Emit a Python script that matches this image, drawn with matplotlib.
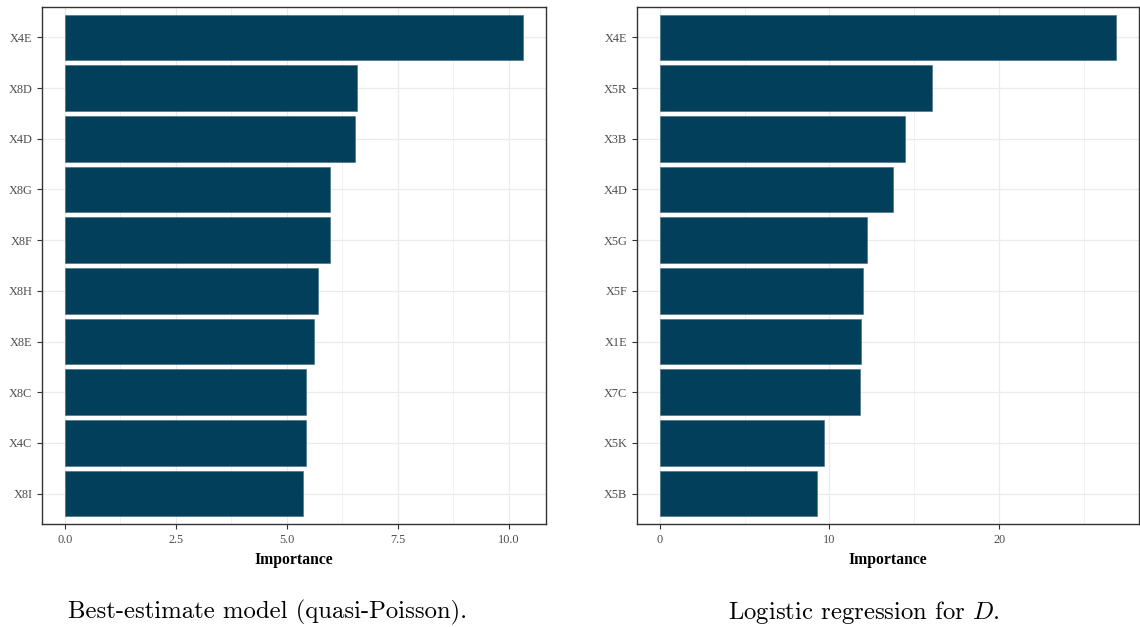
import numpy as np
import matplotlib
matplotlib.use('Agg')
import matplotlib.pyplot as plt
from matplotlib.ticker import MultipleLocator

plt.rcParams['mathtext.fontset'] = 'cm'

# variable importance, best-estimate (quasi-Poisson) model
qp_vars = ['X4E', 'X8D', 'X4D', 'X8G', 'X8F', 'X8H', 'X8E', 'X8C', 'X4C', 'X8I']
qp_imp = [10.32, 6.57, 6.53, 5.96, 5.96, 5.69, 5.60, 5.42, 5.42, 5.37]

# variable importance, logistic regression for D
lr_vars = ['X4E', 'X5R', 'X3B', 'X4D', 'X5G', 'X5F', 'X1E', 'X7C', 'X5K', 'X5B']
lr_imp = [26.9, 16.06, 14.47, 13.76, 12.24, 12.0, 11.88, 11.82, 9.7, 9.24]

bar_color = '#023F5B'
grid_color = '#EBEBEB'
tick_color = '#4D4D4D'


def importance_panel(ax, names, values, major, minor):
    n = len(names)
    ypos = np.arange(n)[::-1] + 1
    ax.set_axisbelow(True)
    ax.barh(ypos, values, height=0.9, color=bar_color, edgecolor='#3E6A80', linewidth=0.4)
    ax.set_yticks(ypos)
    ax.set_yticklabels(names)
    vmax = max(values)
    ax.set_xlim(-0.05 * vmax, 1.05 * vmax)
    ax.set_ylim(0.4, n + 0.6)
    ax.xaxis.set_major_locator(MultipleLocator(major))
    ax.xaxis.set_minor_locator(MultipleLocator(minor))
    ax.grid(which='major', color=grid_color, linewidth=0.9)
    ax.grid(which='minor', axis='x', color=grid_color, linewidth=0.5)
    ax.tick_params(which='major', length=3.5, width=0.8, color='#333333',
                   labelcolor=tick_color, labelsize=8.8)
    ax.tick_params(which='minor', length=0)
    for sp in ax.spines.values():
        sp.set_color('#333333')
        sp.set_linewidth(1.0)
    for lab in ax.get_xticklabels() + ax.get_yticklabels():
        lab.set_family('Liberation Serif')
    ax.set_xlabel('Importance', family='Liberation Serif', fontweight='bold',
                  fontsize=11.3, labelpad=4.5)


fig = plt.figure(figsize=(11.4, 6.27), dpi=100)

ax1 = fig.add_axes([42 / 1140, 1 - 524 / 627, 504 / 1140, 517 / 627])
importance_panel(ax1, qp_vars, qp_imp, 2.5, 1.25)
ax1.xaxis.set_major_formatter(matplotlib.ticker.FormatStrFormatter('%.1f'))
for lab in ax1.get_xticklabels():
    lab.set_family('Liberation Serif')

ax2 = fig.add_axes([637 / 1140, 1 - 524 / 627, 502 / 1140, 517 / 627])
importance_panel(ax2, lr_vars, lr_imp, 10, 5)

fig.text(267 / 1140, 1 - 612 / 627, 'Best-estimate model (quasi-Poisson).',
         family='cmr10', fontsize=17.8, ha='center', va='center')
fig.text(864 / 1140, 1 - 612 / 627, 'Logistic regression for $D$.',
         family='cmr10', fontsize=17.8, ha='center', va='center')

fig.savefig('out.png', dpi=100)
